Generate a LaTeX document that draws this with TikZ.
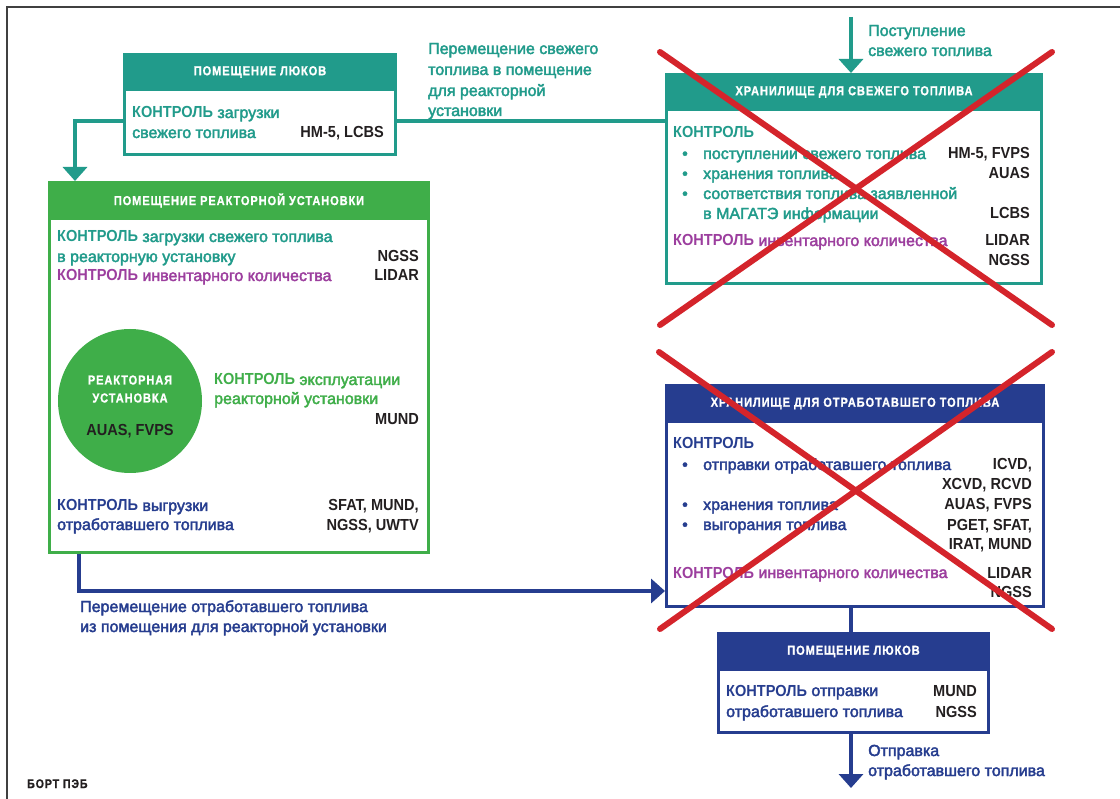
\documentclass[tikz,border=0pt]{standalone}
\usepackage{fontspec}
\setmainfont{Liberation Sans}
\newfontfamily\hdrfont{Liberation Sans}[FakeStretch=0.85, LetterSpace=7, FakeBold=1]
\newfontfamily\medfont{Liberation Sans}[FakeBold=2.4]
\newfontfamily\boldc{Liberation Sans}[FakeStretch=0.91]
\usetikzlibrary{arrows.meta}
\definecolor{tealc}{HTML}{219B8B}
\definecolor{greenc}{HTML}{3FAE49}
\definecolor{navyc}{HTML}{263D8F}
\definecolor{magc}{HTML}{9C3E9E}
\definecolor{redc}{HTML}{D4242B}
\definecolor{inkc}{HTML}{231F20}
\newcommand\ctl{{\boldc\bfseries КОНТРОЛЬ}}
\tikzset{
  txt/.style={inner sep=0pt, anchor=base west, font=\medfont\fontsize{16}{20}\selectfont},
  code/.style={inner sep=0pt, anchor=base east, text=inkc, font=\boldc\bfseries\fontsize{16}{20}\selectfont},
  hdr/.style={inner sep=0pt, text=white, font=\hdrfont\bfseries\fontsize{13}{15}\selectfont},
  boxc/.style={draw=#1, line width=3pt, anchor=north west, inner sep=0pt},
  band/.style={fill=#1, draw=#1, line width=3pt, anchor=north west, inner sep=0pt},
  link/.style={draw=#1, line width=4pt},
  tip/.style={-{Triangle[width=24pt,length=14pt]}},
  cross/.style={draw=redc, line width=6pt, line cap=round},
}
\begin{document}
\begin{tikzpicture}[x=1pt,y=-1pt]
\useasboundingbox (0,0) rectangle (1120,799);
\fill[white] (0,0) rectangle (1120,799);
% frame
\draw[line width=2.5pt, color=black!75] (7,799) -- (7,7) -- (1120,7);

% ---------- top-left hatch room ----------
\node[boxc=tealc, minimum width=271pt, minimum height=100pt] (hatch1) at (123,53) {};
\node[band=tealc, minimum width=271pt, minimum height=35pt] (hatch1h) at (123,53) {};
\node[hdr] (hatch1t) at (hatch1h.center) {ПОМЕЩЕНИЕ ЛЮКОВ};
\node[txt, text=tealc] (h1a) at (132,118) {\ctl\ загрузки};
\node[txt, text=tealc] (h1b) at (132,138) {свежего топлива};
\node[code] (h1c) at (384,138) {HM-5, LCBS};

% label fresh transfer
\node[txt, text=tealc] (lf1) at (428,54) {Перемещение свежего};
\node[txt, text=tealc] (lf2) at (428,75) {топлива в помещение};
\node[txt, text=tealc] (lf3) at (428,96) {для реакторной};
\node[txt, text=tealc] (lf4) at (428,116) {установки};

% ---------- fresh fuel store ----------
\node[boxc=tealc, minimum width=375pt, minimum height=209pt] (fresh) at (665,73) {};
\node[band=tealc, minimum width=375pt, minimum height=35pt] (freshh) at (665,73) {};
\node[hdr] (fresht) at (freshh.center) {ХРАНИЛИЩЕ ДЛЯ СВЕЖЕГО ТОПЛИВА};
\node[txt, text=tealc] (f0) at (673,138) {\ctl};
\node[txt, text=tealc] (fb1) at (682,159) {•};
\node[txt, text=tealc] (f1) at (703,159) {поступлении свежего топлива};
\node[txt, text=tealc] (fb2) at (682,179) {•};
\node[txt, text=tealc] (f2) at (703,179) {хранения топлива};
\node[txt, text=tealc] (fb3) at (682,199) {•};
\node[txt, text=tealc] (f3) at (703,199) {соответствия топлива заявленной};
\node[txt, text=tealc] (f4) at (703,219) {в МАГАТЭ информации};
\node[txt, text=magc] (f5) at (673,246) {\ctl\ инвентарного количества};
\node[code] (fc1) at (1030,159) {HM-5, FVPS};
\node[code] (fc2) at (1030,179) {AUAS};
\node[code] (fc3) at (1030,219) {LCBS};
\node[code] (fc4) at (1030,246) {LIDAR};
\node[code] (fc5) at (1030,266) {NGSS};

% incoming arrow
\coordinate (inTop) at (851,17);
\draw[link=tealc, tip, color=tealc] (inTop) -- (fresh.north -| inTop);
\node[txt, text=tealc] (in1) at (868,36) {Поступление};
\node[txt, text=tealc] (in2) at (868,56) {свежего топлива};

% ---------- reactor room ----------
\node[boxc=greenc, minimum width=379pt, minimum height=370pt] (reac) at (48,181) {};
\node[band=greenc, minimum width=379pt, minimum height=36pt] (reach) at (48,181) {};
\node[hdr] (react) at (reach.center) {ПОМЕЩЕНИЕ РЕАКТОРНОЙ УСТАНОВКИ};
\node[txt, text=tealc] (r1) at (57,242) {\ctl\ загрузки свежего топлива};
\node[txt, text=tealc] (r2) at (57,262) {в реакторную установку};
\node[code] (rc1) at (419,262) {NGSS};
\node[txt, text=magc] (r3) at (57,281) {\ctl\ инвентарного количества};
\node[code] (rc2) at (419,281) {LIDAR};
\node[circle, fill=greenc, minimum size=144pt, inner sep=0pt] (core) at (130,401) {};
\node[hdr] (core1) at (130,380) {РЕАКТОРНАЯ};
\node[hdr] (core2) at (130,398) {УСТАНОВКА};
\node[code, anchor=center] (core3) at (130,431) {AUAS, FVPS};
\node[txt, text=greenc] (r4) at (214,385) {\ctl\ эксплуатации};
\node[txt, text=greenc] (r5) at (214,404) {реакторной установки};
\node[code] (rc3) at (419,425) {MUND};
\node[txt, text=navyc] (r6) at (57,511) {\ctl\ выгрузки};
\node[txt, text=navyc] (r7) at (57,530) {отработавшего топлива};
\node[code] (rc4) at (419,511) {SFAT, MUND,};
\node[code] (rc5) at (419,530) {NGSS, UWTV};

% ---------- spent fuel store ----------
\node[boxc=navyc, minimum width=377pt, minimum height=221pt] (spent) at (665,384) {};
\node[band=navyc, minimum width=377pt, minimum height=36pt] (spenth) at (665,384) {};
\node[hdr] (spentt) at (spenth.center) {ХРАНИЛИЩЕ ДЛЯ ОТРАБОТАВШЕГО ТОПЛИВА};
\node[txt, text=navyc] (s0) at (673,449) {\ctl};
\node[txt, text=navyc] (sb1) at (682,470) {•};
\node[txt, text=navyc] (s1) at (703,470) {отправки отработавшего топлива};
\node[txt, text=navyc] (sb2) at (682,510) {•};
\node[txt, text=navyc] (s2) at (703,510) {хранения топлива};
\node[txt, text=navyc] (sb3) at (682,530) {•};
\node[txt, text=navyc] (s3) at (703,530) {выгорания топлива};
\node[txt, text=magc] (s4) at (673,578) {\ctl\ инвентарного количества};
\node[code] (sc1) at (1032,470) {ICVD,};
\node[code] (sc2) at (1032,490) {XCVD, RCVD};
\node[code] (sc3) at (1032,510) {AUAS, FVPS};
\node[code] (sc4) at (1032,530) {PGET, SFAT,};
\node[code] (sc5) at (1032,550) {IRAT, MUND};
\node[code] (sc6) at (1032,578) {LIDAR};
\node[code] (sc7) at (1032,597) {NGSS};

% ---------- bottom hatch room ----------
\node[boxc=navyc, minimum width=270pt, minimum height=99pt] (hatch2) at (717,632) {};
\node[band=navyc, minimum width=270pt, minimum height=36pt] (hatch2h) at (717,632) {};
\node[hdr] (hatch2t) at (hatch2h.center) {ПОМЕЩЕНИЕ ЛЮКОВ};
\node[txt, text=navyc] (b1) at (726,696) {\ctl\ отправки};
\node[txt, text=navyc] (b2) at (726,717) {отработавшего топлива};
\node[code] (bc1) at (977,696) {MUND};
\node[code] (bc2) at (977,717) {NGSS};

% outgoing
\coordinate (outEnd) at (851,788);
\node[txt, text=navyc] (o1) at (868,756) {Отправка};
\node[txt, text=navyc] (o2) at (868,776) {отработавшего топлива};

% ---------- connectors ----------
\coordinate (fy) at (0,121);
\coordinate (fx) at (75,0);
\draw[link=tealc] (hatch1.east |- fy) -- (fresh.west |- fy);
\draw[link=tealc, tip, color=tealc] (hatch1.west |- fy) -| (reac.north -| fx);

\coordinate (sx) at (79,0);
\coordinate (sy) at (0,591);
\draw[link=navyc, tip, color=navyc] (reac.south -| sx) |- (spent.west |- sy);
\node[txt, text=navyc] (ls1) at (80,612) {Перемещение отработавшего топлива};
\node[txt, text=navyc] (ls2) at (80,632) {из помещения для реакторной установки};

\coordinate (vx) at (851,0);
\draw[link=navyc] (spent.south -| vx) -- (hatch2.north -| vx);
\draw[link=navyc, tip, color=navyc] (hatch2.south -| vx) -- (outEnd);

% ---------- red crosses ----------
\coordinate (x1a) at (660,52);  \coordinate (x1b) at (1052,325);
\coordinate (x1c) at (1052,52); \coordinate (x1d) at (660,325);
\draw[cross] (x1a) -- (x1b);
\draw[cross] (x1c) -- (x1d);
\coordinate (x2a) at (659,352); \coordinate (x2b) at (1052,629);
\coordinate (x2c) at (1052,352); \coordinate (x2d) at (660,629);
\draw[cross] (x2a) -- (x2b);
\draw[cross] (x2c) -- (x2d);

\node[inner sep=0pt, anchor=base west, text=inkc, font=\hdrfont\bfseries\fontsize{12.5}{14}\selectfont] (sig) at (27,788) {БОРТ ПЭБ};
\end{tikzpicture}
\end{document}
